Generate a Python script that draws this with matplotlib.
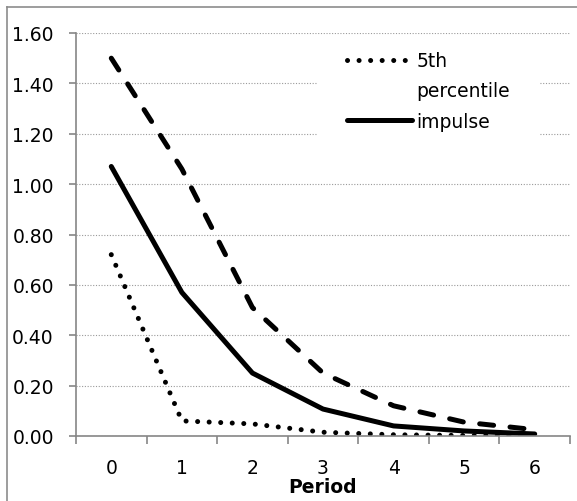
import matplotlib.pyplot as plt
from matplotlib.lines import Line2D
from matplotlib.patches import Rectangle
from matplotlib.ticker import FixedLocator, FormatStrFormatter

# values
periods = [0, 1, 2, 3, 4, 5, 6]
upper = [1.50, 1.06, 0.51, 0.25, 0.12, 0.055, 0.025]
impulse = [1.07, 0.57, 0.25, 0.107, 0.04, 0.02, 0.008]
lower = [0.72, 0.06, 0.048, 0.015, 0.005, 0.002, 0.001]
yticks = [0.0, 0.2, 0.4, 0.6, 0.8, 1.0, 1.2, 1.4, 1.6]

plt.rcParams['font.family'] = ['DejaVu Sans']
fs = 13.5
gray = '#868686'

fig = plt.figure(figsize=(5.77, 5.02), dpi=100)
ax = fig.add_axes([76/577, 1-437/502, 494/577, 403/502])

lw = 3.6
ax.plot(periods, upper, color='black', lw=lw, linestyle=(0, (2.8, 3.3)),
        dash_capstyle='round', solid_joinstyle='round', label='95th percentile')
ax.plot(periods, impulse, color='black', lw=lw, solid_capstyle='round',
        solid_joinstyle='round', label='impulse')
ax.plot(periods, lower, color='black', lw=lw, linestyle=(0, (0.01, 2.3)),
        dash_capstyle='round', label='5th percentile')

ax.set_xlim(-0.5, 6.5)
ax.set_ylim(0, 1.6)
ax.set_yticks(yticks)
ax.yaxis.set_major_formatter(FormatStrFormatter('%.2f'))
ax.set_xticks(periods)
ax.xaxis.set_minor_locator(FixedLocator([p - 0.5 for p in periods] + [6.5]))
ax.tick_params(axis='x', which='major', length=0, pad=16, labelsize=fs)
ax.tick_params(axis='x', which='minor', length=6, width=1.2, color=gray, direction='out')
ax.tick_params(axis='y', which='major', length=5, width=1.2, color=gray, pad=11, labelsize=fs)
ax.set_xlabel('Period', fontsize=fs, fontweight='bold', labelpad=0)

for side in ['top', 'right']:
    ax.spines[side].set_visible(False)
for side in ['left', 'bottom']:
    ax.spines[side].set_color(gray)
    ax.spines[side].set_linewidth(1.2)

ax.set_axisbelow(True)
ax.yaxis.grid(True, color='#9a9a9a', lw=0.8, linestyle=(0, (1, 1.5)))

# white legend background hiding the gridlines
ax.add_patch(Rectangle((0.488, 0.712), 0.451, 0.26, transform=ax.transAxes,
                       facecolor='white', edgecolor='none', zorder=1))
h_dot = Line2D([], [], color='black', lw=lw, linestyle=(0, (0.01, 2.3)), dash_capstyle='round')
h_none = Line2D([], [], color='none')
h_sol = Line2D([], [], color='black', lw=lw, solid_capstyle='round')
ax.legend([h_dot, h_none, h_sol], ['5th', 'percentile', 'impulse'],
          loc='upper left', bbox_to_anchor=(0.548, 0.955), frameon=False,
          fontsize=fs, handlelength=3.5, handletextpad=0.2, labelspacing=0.6,
          borderpad=0, borderaxespad=0)

# outer chart frame (cropped on right/bottom)
fig.add_artist(Line2D([7/577, 7/577], [0, 1-8/502], color='#8c8c8c', lw=1.2))
fig.add_artist(Line2D([7/577, 1], [1-8/502, 1-8/502], color='#8c8c8c', lw=1.2))

fig.savefig('out.png', dpi=100)
